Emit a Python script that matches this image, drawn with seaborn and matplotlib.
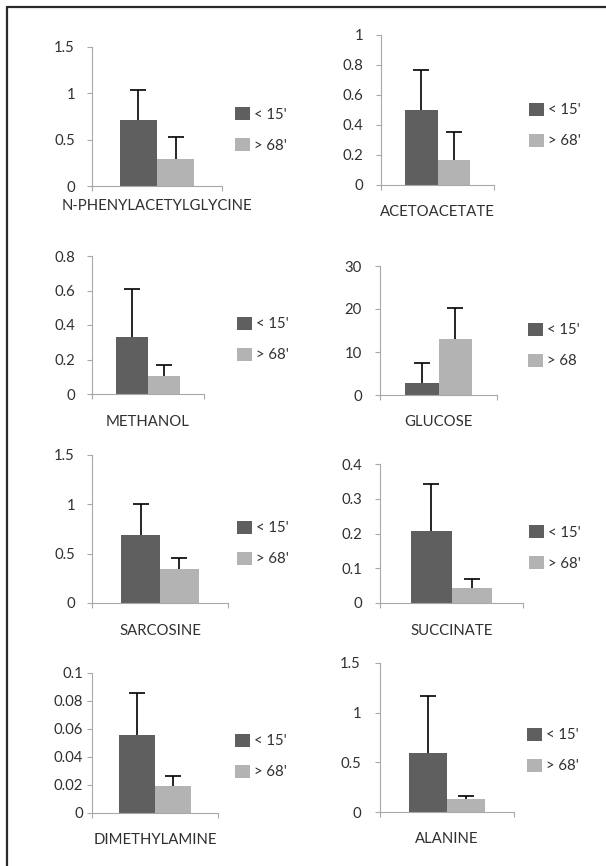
import numpy as np
import pandas as pd
import matplotlib
matplotlib.use("Agg")
import matplotlib.pyplot as plt
from matplotlib.lines import Line2D
import seaborn as sns

# ---------------- data ----------------
metabolites = ["N-PHENYLACETYLGLYCINE", "ACETOACETATE", "METHANOL", "GLUCOSE",
               "SARCOSINE", "SUCCINATE", "DIMETHYLAMINE", "ALANINE"]
groups = ["< 15'", "> 68'"]
mean_lt15 = [0.71, 0.50, 0.33, 2.8, 0.69, 0.207, 0.056, 0.59]
err_lt15 = [0.325, 0.267, 0.28, 4.7, 0.31, 0.135, 0.030, 0.58]
mean_gt68 = [0.29, 0.167, 0.104, 13.0, 0.34, 0.043, 0.019, 0.13]
err_gt68 = [0.24, 0.186, 0.064, 7.2, 0.115, 0.026, 0.0074, 0.03]
legend_labels = [["< 15'", "> 68'"], ["< 15'", "> 68'"], ["< 15'", "> 68'"],
                 ["< 15'", "> 68"], ["< 15'", "> 68'"], ["< 15'", "> 68'"],
                 ["< 15'", "> 68'"], ["< 15'", "> 68'"]]
yticks = [[0, 0.5, 1, 1.5], [0, 0.2, 0.4, 0.6, 0.8, 1], [0, 0.2, 0.4, 0.6, 0.8],
          [0, 10, 20, 30], [0, 0.5, 1, 1.5], [0, 0.1, 0.2, 0.3, 0.4],
          [0, 0.02, 0.04, 0.06, 0.08, 0.1], [0, 0.5, 1, 1.5]]
ytick_labels = [["0", "0.5", "1", "1.5"], ["0", "0.2", "0.4", "0.6", "0.8", "1"],
                ["0", "0.2", "0.4", "0.6", "0.8"], ["0", "10", "20", "30"],
                ["0", "0.5", "1", "1.5"], ["0", "0.1", "0.2", "0.3", "0.4"],
                ["0", "0.02", "0.04", "0.06", "0.08", "0.1"], ["0", "0.5", "1", "1.5"]]

# ---------------- layout (pixels) ----------------
W, H = 606, 866
axes_px = [(92, 47, 222, 186), (381, 35, 494, 185), (92, 256, 204, 394), (380, 266, 497, 395),
           (92, 455, 228, 603), (380, 464, 523, 603), (92, 673, 218, 813), (380, 663, 514, 812)]
legend_px = [(235, 130), (529, 125.5), (237, 339.5), (528, 345.5),
             (237, 543.5), (529, 548), (235, 756.5), (527, 750.5)]
xlabel_pad_px = [13, 20, 21, 20, 21, 21, 20, 20]
ylabel_pad_px = [12, 13, 12, 13, 12, 13, 4, 14]

DARK = "#5f5f5f"
LIGHT = "#b3b3b3"
TXT = "#303030"
AXC = "#a8a8a8"
FS = 10.7
PX = 0.72  # points per pixel at dpi 100

sns.set_style("white")
plt.rcParams["font.family"] = ["Lato", "DejaVu Sans"]

fig = plt.figure(figsize=(W / 100, H / 100), dpi=100)
fig.patch.set_facecolor("white")

for i, name in enumerate(metabolites):
    l, t, r, b = axes_px[i]
    ax = fig.add_axes([l / W, 1 - b / H, (r - l) / W, (b - t) / H])
    df = pd.DataFrame({"metabolite": [name, name], "group": groups,
                       "value": [mean_lt15[i], mean_gt68[i]]})
    sns.barplot(data=df, x="metabolite", y="value", hue="group", hue_order=groups,
                palette=[DARK, LIGHT], width=0.57, saturation=1, errorbar=None,
                linewidth=0, ax=ax, legend=False)
    bar_conts = list(ax.containers)
    errs = [err_lt15[i], err_gt68[i]]
    for cont, e in zip(bar_conts, errs):
        for p in cont.patches:
            xc = p.get_x() + p.get_width() / 2
            top = p.get_height()
            _, caps, _ = ax.errorbar([xc], [top], yerr=[[0], [e]], fmt="none",
                                     ecolor="black", elinewidth=1.2, capsize=6,
                                     capthick=1.2, zorder=3)
            caps[0].set_visible(False)

    ax.set_xlim(-0.5, 0.5)
    ax.set_ylim(yticks[i][0], yticks[i][-1])
    ax.set_yticks(yticks[i])
    ax.set_yticklabels(ytick_labels[i])
    ax.set_xticks([0])
    ax.set_xticklabels([name])
    ax.set_xticks([-0.5, 0.5], minor=True)
    ax.set_xlabel("")
    ax.set_ylabel("")
    ax.tick_params(axis="x", which="major", length=0, pad=xlabel_pad_px[i] * PX,
                   labelsize=FS, labelcolor=TXT, bottom=True)
    ax.tick_params(axis="x", which="minor", length=5 * PX, width=0.8, color=AXC,
                   direction="out", bottom=True)
    ax.tick_params(axis="y", which="major", length=5 * PX, width=0.8, color=AXC,
                   direction="out", pad=ylabel_pad_px[i] * PX, labelsize=FS,
                   labelcolor=TXT, left=True)
    for s in ["top", "right"]:
        ax.spines[s].set_visible(False)
    for s in ["left", "bottom"]:
        ax.spines[s].set_color(AXC)
        ax.spines[s].set_linewidth(0.8)
    ax.set_facecolor("none")
    ax.grid(False)

    handles = [c.patches[0] for c in bar_conts]
    lx, ly = legend_px[i]
    ax.legend(handles, legend_labels[i], loc="center left",
              bbox_to_anchor=(lx / W, 1 - ly / H), bbox_transform=fig.transFigure,
              frameon=False, borderpad=0, borderaxespad=0, handlelength=1.0,
              handleheight=1.0, handletextpad=0.25, labelspacing=1.1,
              fontsize=FS, labelcolor=TXT)

# outer frame lines (top and left)
fig.add_artist(Line2D([7 / W, 1], [1 - 6.5 / H, 1 - 6.5 / H], transform=fig.transFigure,
                      color="#2a2a2a", lw=1.6))
fig.add_artist(Line2D([7 / W, 7 / W], [0, 1 - 6.5 / H], transform=fig.transFigure,
                      color="#2a2a2a", lw=1.6))

fig.savefig("out.png", dpi=100)
